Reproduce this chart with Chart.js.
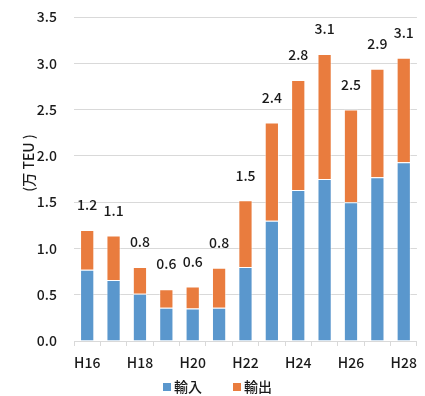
<!DOCTYPE html>
<html>
<head>
<meta charset="utf-8">
<script src="https://cdn.jsdelivr.net/npm/chart.js@4"></script>
<style>
  html, body { margin: 0; padding: 0; background: #fff; }
  #wrap { width: 425px; height: 396px; position: relative; }
</style>
</head>
<body>
<div id="wrap"><canvas id="c" width="425" height="396"></canvas></div>
<script>
// Fiscal years (Heisei)
const categories = ['H16','H17','H18','H19','H20','H21','H22','H23','H24','H25','H26','H27','H28'];
// Container volume, 万 TEU
const imports = [0.77, 0.66, 0.51, 0.36, 0.35, 0.36, 0.80, 1.30, 1.63, 1.75, 1.50, 1.77, 1.93];
const exports = [0.43, 0.48, 0.29, 0.20, 0.24, 0.43, 0.72, 1.06, 1.19, 1.35, 1.00, 1.17, 1.13];
const yTicks = [0, 0.5, 1.0, 1.5, 2.0, 2.5, 3.0, 3.5];
const seriesNames = ['輸入', '輸出'];
const axisTitle = '(万 TEU )';

const totals = imports.map((v, i) => v + exports[i]);
const FONT = '"Noto Sans CJK JP", "Noto Sans", sans-serif';
const TEXT = '#1a1a1a';
const BLUE = '#5A97CD';
const ORANGE = '#E97C3E';

// Total value above each stacked column
const totalLabels = {
  id: 'totalLabels',
  afterDatasetsDraw(chart) {
    const ctx = chart.ctx;
    const y = chart.scales.y;
    const meta = chart.getDatasetMeta(1);
    ctx.save();
    ctx.font = '500 14px ' + FONT;
    ctx.fillStyle = TEXT;
    ctx.textAlign = 'center';
    ctx.textBaseline = 'middle';
    meta.data.forEach((bar, i) => {
      ctx.fillText(totals[i].toFixed(1), bar.x, y.getPixelForValue(totals[i]) - 25);
    });
    ctx.restore();
  }
};

// Rotated unit caption and the series key under the axis
const captionAndKey = {
  id: 'captionAndKey',
  afterDraw(chart) {
    const ctx = chart.ctx;
    ctx.save();
    ctx.font = '500 14px ' + FONT;
    ctx.fillStyle = TEXT;
    ctx.textBaseline = 'middle';

    ctx.save();
    ctx.translate(29, 163);
    ctx.rotate(-Math.PI / 2);
    ctx.textAlign = 'center';
    ctx.fillText(axisTitle, 0, 0);
    ctx.restore();

    const keyY = 387;
    const startX = [163, 233];
    chart.data.datasets.forEach((ds, i) => {
      ctx.fillStyle = ds.backgroundColor;
      ctx.fillRect(startX[i], keyY - 4, 8, 8);
      ctx.fillStyle = TEXT;
      ctx.textAlign = 'left';
      ctx.fillText(ds.label, startX[i] + 11, keyY);
    });
    ctx.restore();
  }
};

new Chart(document.getElementById('c'), {
  type: 'bar',
  data: {
    labels: categories,
    datasets: [
      { label: seriesNames[0], data: imports, backgroundColor: BLUE, borderColor: 'rgba(255,255,255,0.55)', borderWidth: 1, categoryPercentage: 1, barPercentage: 0.54 },
      { label: seriesNames[1], data: exports, backgroundColor: ORANGE, borderColor: 'rgba(255,255,255,0.55)', borderWidth: 1, categoryPercentage: 1, barPercentage: 0.54 }
    ]
  },
  options: {
    responsive: false,
    animation: false,
    devicePixelRatio: 1,
    layout: { padding: { top: 17, right: 2, left: 0, bottom: 25 } },
    plugins: {
      legend: { display: false },
      tooltip: { enabled: false },
      title: { display: false }
    },
    scales: {
      x: {
        stacked: true,
        grid: { display: true, drawOnChartArea: false, drawTicks: true, tickLength: 5, color: '#d9d9d9', offset: true },
        border: { color: '#d9d9d9' },
        ticks: {
          autoSkip: false,
          maxRotation: 0,
          font: { family: FONT, size: 14, weight: 500 },
          color: TEXT,
          padding: 8,
          callback: (v, i) => (i % 2 === 0 ? categories[i] : '')
        },
        afterFit(scale) { scale.height = 30; }
      },
      y: {
        stacked: true,
        min: 0,
        max: 3.5,
        afterBuildTicks(scale) { scale.ticks = yTicks.map(v => ({ value: v })); },
        grid: { color: '#d9d9d9', drawTicks: false },
        border: { display: false },
        ticks: {
          font: { family: FONT, size: 14, weight: 500 },
          color: TEXT,
          padding: 17,
          callback: v => v.toFixed(1)
        },
        afterFit(scale) {
          scale.width = 74;
          scale.paddingTop = 0;
          scale.paddingBottom = 0;
        }
      }
    }
  },
  plugins: [totalLabels, captionAndKey]
});
</script>
</body>
</html>
